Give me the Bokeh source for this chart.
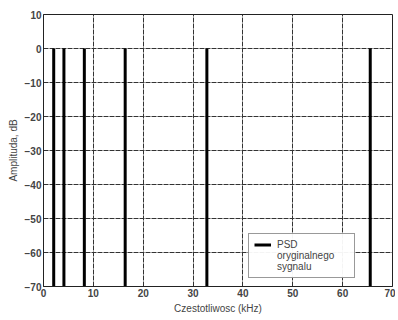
from bokeh.plotting import figure
from bokeh.embed import file_html
from bokeh.resources import INLINE
from bokeh.models import Legend, LegendItem, FixedTicker

freqs_khz = [2.048, 4.096, 8.192, 16.384, 32.768, 65.536]
amps_db = [0, 0, 0, 0, 0, 0]
floor_db = [-70, -70, -70, -70, -70, -70]
x_ticks = [0, 10, 20, 30, 40, 50, 60, 70]
y_ticks = [-70, -60, -50, -40, -30, -20, -10, 0, 10]
legend_lines = ["PSD", "oryginalnego", "sygnalu"]

p = figure(width=395, height=316, x_range=(0, 70), y_range=(-70, 10),
           output_backend="svg", toolbar_location=None,
           min_border_left=43, min_border_right=3, min_border_top=14, min_border_bottom=30)

r = p.segment(x0=freqs_khz, y0=floor_db, x1=freqs_khz, y1=amps_db,
              line_color="black", line_width=3)
# invisible renderer used only for legend continuation lines
r_blank = p.segment(x0=[freqs_khz[0]], y0=[floor_db[0]], x1=[freqs_khz[0]], y1=[floor_db[0]],
                    line_alpha=0)

p.xaxis.ticker = FixedTicker(ticks=x_ticks)
p.yaxis.ticker = FixedTicker(ticks=y_ticks)
p.xaxis.axis_label = "Czestotliwosc (kHz)"
p.yaxis.axis_label = "Amplituda, dB"
for ax in (p.xaxis[0], p.yaxis[0]):
    ax.axis_label_text_font = "Liberation Sans"
    ax.axis_label_text_font_size = "10px"
    ax.axis_label_text_font_style = "normal"
    ax.major_label_text_font = "Liberation Sans"
    ax.major_label_text_font_size = "10px"
    ax.major_label_text_font_style = "bold"
    ax.major_tick_in = 0
    ax.major_tick_out = 0
    ax.minor_tick_in = 0
    ax.minor_tick_out = 0
    ax.axis_line_color = "#222222"
    ax.major_label_standoff = 2
    ax.axis_label_standoff = 3

p.grid.grid_line_color = "#333333"
p.grid.grid_line_width = 1
p.grid.grid_line_dash = "5 1"
p.outline_line_color = "#222222"
p.outline_line_width = 1

items = [LegendItem(label=legend_lines[0], renderers=[r]),
         LegendItem(label=legend_lines[1], renderers=[r_blank]),
         LegendItem(label=legend_lines[2], renderers=[r_blank])]
legend = Legend(items=items,
                location=(205, 8), label_text_font="Liberation Sans",
                label_text_font_size="10px", border_line_color="#333333",
                label_height=11, glyph_height=11, glyph_width=17, padding=5,
                spacing=0, margin=0, label_standoff=6, label_width=72)
p.add_layout(legend, "center")

open("out.html", "w").write(file_html(p, INLINE))
